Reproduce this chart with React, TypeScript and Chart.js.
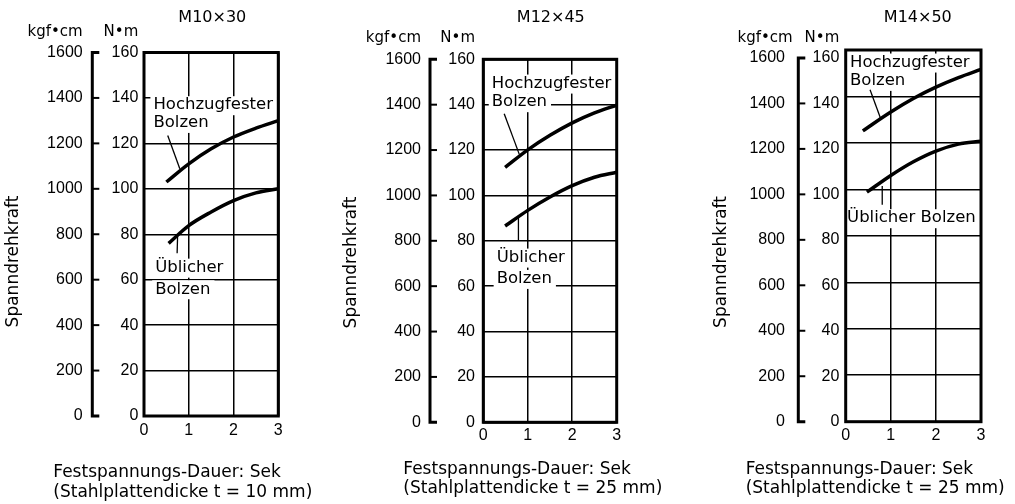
import React, { useEffect, useRef } from "react";
import { Chart, registerables } from "chart.js";

Chart.register(...registerables);

// ---------- data ----------
const X_TICKS = [0, 1, 2, 3];
const NM_TICKS = [0, 20, 40, 60, 80, 100, 120, 140, 160];
const KGF_TICKS = [0, 200, 400, 600, 800, 1000, 1200, 1400, 1600];

const TITLES = ["M10×30", "M12×45", "M14×50"];
const X_TITLE = "Festspannungs-Dauer: Sek";
const PLATE_NOTES = [
  "(Stahlplattendicke t = 10 mm)",
  "(Stahlplattendicke t = 25 mm)",
  "(Stahlplattendicke t = 25 mm)",
];
const Y_TITLE = "Spanndrehkraft";
const UNIT_KGF = "kgf•cm";
const UNIT_NM = "N•m";
const HIGH_LABEL = ["Hochzugfester", "Bolzen"];
const STD_LABEL = ["Üblicher", "Bolzen"];
const STD_LABEL_ONE_LINE = ["Üblicher Bolzen"];

// Hochzugfester / üblicher Bolzen (N·m) vs time (s)
const HIGH_X_1 = [0.5, 1, 1.5, 2, 2.5, 3];
const HIGH_Y_1 = [103, 111, 117.6, 122.8, 126.7, 130];
const STD_X_1 = [0.55, 1, 1.5, 2, 2.5, 3];
const STD_Y_1 = [76, 83.8, 89.8, 94.8, 98.2, 100];

const HIGH_X_2 = [0.49, 1, 1.5, 2, 2.5, 3];
const HIGH_Y_2 = [112.4, 120.1, 126.5, 132, 136.4, 139.8];
const STD_X_2 = [0.49, 1, 1.5, 2, 2.5, 3];
const STD_Y_2 = [86.5, 93.4, 99.3, 104.3, 108, 110.2];

const HIGH_X_3 = [0.38, 1, 1.5, 2, 2.5, 3];
const HIGH_Y_3 = [125.2, 133.3, 139.1, 144, 148.1, 151.6];
const STD_X_3 = [0.47, 1, 1.5, 2, 2.5, 3];
const STD_Y_3 = [98.8, 106, 111.9, 116.5, 119.5, 120.7];

// ---------- layout / style ----------
const W = 1015;
const H = 504;
const WORD_FONT = '"DejaVu Sans", sans-serif';
const NUM_FONT = '"Liberation Sans", Arial, sans-serif';

type Line = { t: string; x: number; y: number };
type Panel = {
  title: string;
  note: string;
  high: { xs: number[]; ys: number[] };
  std: { xs: number[]; ys: number[] };
  highText: Line[];
  highLeader: number[][];
  stdText: Line[];
  stdLeader: number[][];
  g: any;
};

const PANELS: Panel[] = [
  {
    title: TITLES[0],
    note: PLATE_NOTES[0],
    high: { xs: HIGH_X_1, ys: HIGH_Y_1 },
    std: { xs: STD_X_1, ys: STD_Y_1 },
    highText: [
      { t: HIGH_LABEL[0], x: 0.21, y: 136.8 },
      { t: HIGH_LABEL[1], x: 0.21, y: 129.0 },
    ],
    highLeader: [[0.53, 123.5], [0.8, 108.8]],
    stdText: [
      { t: STD_LABEL[0], x: 0.25, y: 65.3 },
      { t: STD_LABEL[1], x: 0.25, y: 55.8 },
    ],
    stdLeader: [[0.75, 79], [0.74, 71.6]],
    g: {
      plotLeft: 144, plotRight: 278.3, plotTop: 52.5, plotBottom: 416,
      bracketX: 92.3, nmPad: 5.7, kgfPad: 9.6, xPad: 5,
      kgfMax: 1600, nmLabelMax: 160,
      titleX: 212.3, titleY: 17.8, unitY: 32.3,
      kgfUnitRight: 82.7, nmUnitRight: 138.3,
      yTitleX: 14, yTitleY: 261.5,
      xTitleLeft: 53.3, xTitleY1: 472.5, xTitleY2: 492.5,
    },
  },
  {
    title: TITLES[1],
    note: PLATE_NOTES[1],
    high: { xs: HIGH_X_2, ys: HIGH_Y_2 },
    std: { xs: STD_X_2, ys: STD_Y_2 },
    highText: [
      { t: HIGH_LABEL[0], x: 0.19, y: 149.3 },
      { t: HIGH_LABEL[1], x: 0.19, y: 141.1 },
    ],
    highLeader: [[0.47, 136.0], [0.81, 118.1]],
    stdText: [
      { t: STD_LABEL[0], x: 0.3, y: 72.6 },
      { t: STD_LABEL[1], x: 0.3, y: 63.2 },
    ],
    stdLeader: [[0.79, 90.5], [0.79, 80.2]],
    g: {
      plotLeft: 483.3, plotRight: 616.7, plotTop: 59.3, plotBottom: 422.3,
      bracketX: 430, nmPad: 8.3, kgfPad: 9, xPad: 3.2,
      kgfMax: 1600, nmLabelMax: 160,
      titleX: 550.8, titleY: 17.8, unitY: 37.8,
      kgfUnitRight: 421, nmUnitRight: 475,
      yTitleX: 352, yTitleY: 262.5,
      xTitleLeft: 403.3, xTitleY1: 469.7, xTitleY2: 488.3,
    },
  },
  {
    title: TITLES[2],
    note: PLATE_NOTES[2],
    high: { xs: HIGH_X_3, ys: HIGH_Y_3 },
    std: { xs: STD_X_3, ys: STD_Y_3 },
    highText: [
      { t: HIGH_LABEL[0], x: 0.095, y: 154.6 },
      { t: HIGH_LABEL[1], x: 0.095, y: 146.7 },
    ],
    highLeader: [[0.54, 142.9], [0.77, 130.7]],
    stdText: [{ t: STD_LABEL_ONE_LINE[0], x: 0.03, y: 87.6 }],
    stdLeader: [[0.81, 101.5], [0.81, 93.4]],
    g: {
      plotLeft: 845.7, plotRight: 981, plotTop: 50, plotBottom: 421.7,
      bracketX: 798.3, nmPad: 6.4, kgfPad: 13.3, xPad: 3.8,
      kgfMax: 1635, nmLabelMax: 163.5,
      titleX: 917.8, titleY: 17.8, unitY: 37.8,
      kgfUnitRight: 792.7, nmUnitRight: 839.3,
      yTitleX: 721.5, yTitleY: 262,
      xTitleLeft: 745.7, xTitleY1: 469.5, xTitleY2: 488.3,
    },
  },
];

function setTicks(values: number[]) {
  return (s: any) => {
    s.ticks = values.map((v) => ({ value: v }));
  };
}

const plain = (v: any) => String(v);

function makeChart(canvas: HTMLCanvasElement, p: Panel) {
  const g = p.g;
  const Y2_WIDTH = 70;
  const X_HEIGHT = 40;
  const leftPad = g.bracketX - Y2_WIDTH;

  const deco = {
    id: "deco",
    beforeDatasetsDraw(chart: any) {
      const ctx = chart.ctx;
      const xs = chart.scales.x;
      const ys = chart.scales.y;
      ctx.save();
      ctx.font = `16.5px ${WORD_FONT}`;
      ctx.textAlign = "left";
      ctx.textBaseline = "middle";
      for (const ln of [...p.highText, ...p.stdText]) {
        const px = xs.getPixelForValue(ln.x);
        const py = ys.getPixelForValue(ln.y);
        const w = ctx.measureText(ln.t).width;
        ctx.fillStyle = "#fff";
        ctx.fillRect(px - 3, py - 9, w + 7, 19);
        ctx.fillStyle = "#000";
        ctx.fillText(ln.t, px, py);
      }
      ctx.restore();
    },
    afterDraw(chart: any) {
      const ctx = chart.ctx;
      const a = chart.chartArea;
      const xs = chart.scales.x;
      const ys = chart.scales.y;
      const y2 = chart.scales.y2;
      ctx.save();
      ctx.strokeStyle = "#000";
      ctx.fillStyle = "#000";

      // leaders
      ctx.lineWidth = 1.3;
      for (const ld of [p.highLeader, p.stdLeader]) {
        ctx.beginPath();
        ctx.moveTo(xs.getPixelForValue(ld[0][0]), ys.getPixelForValue(ld[0][1]));
        ctx.lineTo(xs.getPixelForValue(ld[1][0]), ys.getPixelForValue(ld[1][1]));
        ctx.stroke();
      }

      // frame
      ctx.lineWidth = 3;
      ctx.strokeRect(a.left, a.top, a.right - a.left, a.bottom - a.top);

      // kgf bracket axis
      const bx = g.bracketX;
      const top = y2.getPixelForValue(KGF_TICKS[KGF_TICKS.length - 1]);
      const bot = y2.getPixelForValue(KGF_TICKS[0]);
      ctx.lineWidth = 3;
      ctx.beginPath();
      ctx.moveTo(bx + 7, top);
      ctx.lineTo(bx, top);
      ctx.lineTo(bx, bot);
      ctx.lineTo(bx + 7, bot);
      ctx.stroke();
      ctx.lineWidth = 2;
      for (const v of KGF_TICKS.slice(1, -1)) {
        const py = y2.getPixelForValue(v);
        ctx.beginPath();
        ctx.moveTo(bx, py);
        ctx.lineTo(bx + 7, py);
        ctx.stroke();
      }

      // title
      ctx.textBaseline = "middle";
      ctx.textAlign = "center";
      ctx.font = `16px ${WORD_FONT}`;
      ctx.fillText(p.title, g.titleX, g.titleY);

      // units
      ctx.textAlign = "right";
      ctx.font = `15px ${WORD_FONT}`;
      ctx.fillText(UNIT_KGF, g.kgfUnitRight, g.unitY);
      ctx.fillText(UNIT_NM, g.nmUnitRight, g.unitY);

      // x title
      ctx.textAlign = "left";
      ctx.font = `17px ${WORD_FONT}`;
      ctx.fillText(X_TITLE, g.xTitleLeft, g.xTitleY1);
      ctx.fillText(p.note, g.xTitleLeft, g.xTitleY2);

      // y title
      ctx.translate(g.yTitleX, g.yTitleY);
      ctx.rotate(-Math.PI / 2);
      ctx.textAlign = "center";
      ctx.fillText(Y_TITLE, 0, 0);
      ctx.restore();
    },
  };

  const lineDs = (xsArr: number[], ysArr: number[]) => ({
    data: xsArr.map((x, i) => ({ x, y: ysArr[i] })),
    borderColor: "#000",
    borderWidth: 3.5,
    pointRadius: 0,
    cubicInterpolationMode: "monotone" as const,
    fill: false,
    xAxisID: "x",
    yAxisID: "y",
  });

  const numFont = { family: NUM_FONT, size: 16 };

  return new Chart(canvas, {
    type: "line",
    data: {
      datasets: [lineDs(p.high.xs, p.high.ys), lineDs(p.std.xs, p.std.ys)],
    },
    options: {
      animation: false,
      responsive: false,
      maintainAspectRatio: false,
      devicePixelRatio: 1,
      events: [],
      layout: {
        padding: {
          left: leftPad,
          right: W - g.plotRight,
          top: g.plotTop,
          bottom: H - g.plotBottom - X_HEIGHT,
        },
      },
      plugins: {
        legend: { display: false },
        tooltip: { enabled: false },
        title: { display: false },
      },
      scales: {
        x: {
          type: "linear",
          position: "bottom",
          min: 0,
          max: 3,
          afterBuildTicks: setTicks(X_TICKS),
          ticks: { font: numFont, color: "#000", padding: g.xPad, maxRotation: 0, autoSkip: false, callback: plain },
          grid: { color: "#000", lineWidth: 1.5, drawTicks: false },
          border: { display: false },
          afterFit: (s: any) => {
            s.height = X_HEIGHT;
          },
        },
        y: {
          type: "linear",
          position: "left",
          weight: 0,
          min: 0,
          max: 160,
          afterBuildTicks: setTicks(NM_TICKS),
          ticks: { display: false },
          grid: { color: "#000", lineWidth: 1.5, drawTicks: false },
          border: { display: false },
          afterFit: (s: any) => {
            s.width = 0;
          },
        },
        yl: {
          type: "linear",
          position: "left",
          weight: 1,
          min: 0,
          max: g.nmLabelMax,
          afterBuildTicks: setTicks(NM_TICKS),
          ticks: { font: numFont, color: "#000", padding: g.nmPad, autoSkip: false, callback: plain },
          grid: { display: false, drawTicks: false },
          border: { display: false },
          afterFit: (s: any) => {
            s.width = g.plotLeft - g.bracketX;
          },
        },
        y2: {
          type: "linear",
          position: "left",
          weight: 2,
          min: 0,
          max: g.kgfMax,
          afterBuildTicks: setTicks(KGF_TICKS),
          ticks: { font: numFont, color: "#000", padding: g.kgfPad, autoSkip: false, callback: plain },
          grid: { display: false, drawTicks: false },
          border: { display: false },
          afterFit: (s: any) => {
            s.width = Y2_WIDTH;
          },
        },
      } as any,
    },
    plugins: [deco],
  });
}

function PanelChart({ p }: { p: Panel }) {
  const ref = useRef<HTMLCanvasElement>(null);
  useEffect(() => {
    if (!ref.current) return;
    const chart = makeChart(ref.current, p);
    return () => chart.destroy();
  }, [p]);
  return (
    <canvas
      ref={ref}
      width={W}
      height={H}
      style={{ position: "absolute", left: 0, top: 0, width: W, height: H }}
    />
  );
}

export default function App() {
  return (
    <div
      style={{
        position: "fixed",
        left: 0,
        top: 0,
        width: W,
        height: H,
        background: "#fff",
        overflow: "hidden",
      }}
    >
      {PANELS.map((p, i) => (
        <PanelChart key={i} p={p} />
      ))}
    </div>
  );
}
